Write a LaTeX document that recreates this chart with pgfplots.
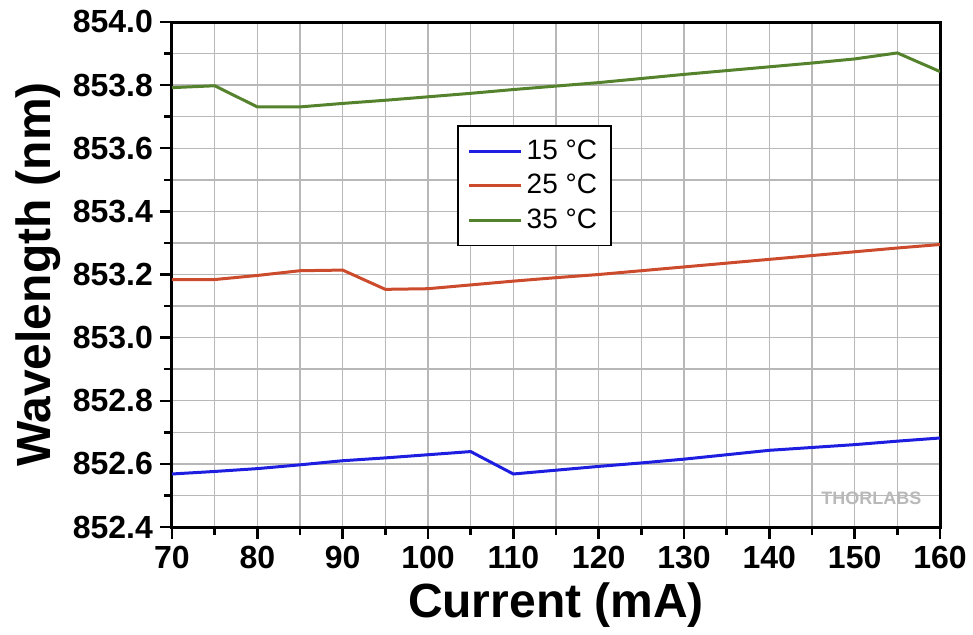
\documentclass[border=0pt]{standalone}
\usepackage{fontspec}
\setmainfont{Liberation Sans}
\usepackage{pgfplots}
\pgfplotsset{compat=1.18}
\usetikzlibrary{calc}

\definecolor{c15}{RGB}{30,30,225}
\definecolor{c25}{RGB}{205,75,45}
\definecolor{c35}{RGB}{85,130,45}

\begin{document}
\begin{tikzpicture}
\begin{axis}[
    scale only axis,
    width=384pt,
    height=252.5pt,
    xmin=70, xmax=160,
    ymin=852.4, ymax=854.0,
    xtick={70,80,...,160},
    ytick={852.4,852.6,...,854.0},
    minor xtick={75,85,...,155},
    minor ytick={852.5,852.7,...,853.9},
    grid=both,
    major grid style={black!28, line width=0.7pt},
    minor grid style={black!28, line width=0.7pt},
    axis line style={line width=1.5pt},
    tick style={black, line width=1.2pt},
    major tick length=6pt,
    minor tick length=4pt,
    tick align=outside,
    xtick pos=bottom,
    ytick pos=left,
    /pgf/number format/assume math mode=true,
    yticklabel style={/pgf/number format/.cd, fixed, fixed zerofill, precision=1, 1000 sep={}},
    tick label style={font=\bfseries\fontsize{16}{18}\selectfont},
    xlabel={Current (mA)},
    ylabel={Wavelength (nm)},
    label style={font=\bfseries\fontsize{24}{27}\selectfont},
    xlabel style={yshift=0pt},
    ylabel style={yshift=-1pt},
    legend style={at={(0.371,0.796)}, anchor=north west, draw=black, line width=0.8pt,
        font=\fontsize{14}{17}\selectfont, row sep=2pt, inner xsep=5pt, inner ysep=5pt,
        /tikz/every even column/.append style={column sep=4pt}},
    legend cell align=left,
    legend image code/.code={\draw[#1, line width=1.5pt] (0pt,0pt) -- (26pt,0pt);},
]
\addplot[c15, line width=1.5pt] coordinates {
(70,852.568) (75,852.576) (80,852.585) (85,852.597) (90,852.610) (95,852.619) (100,852.629) (105,852.639)
(110,852.568) (115,852.580) (120,852.592) (125,852.603) (130,852.615) (135,852.629) (140,852.643)
(145,852.652) (150,852.661) (155,852.672) (160,852.682)};
\addlegendentry{15 °C}
\addplot[c25, line width=1.5pt] coordinates {
(70,853.184) (75,853.184) (80,853.197) (85,853.212) (90,853.214) (95,853.153) (100,853.155)
(105,853.167) (110,853.179) (115,853.190) (120,853.200) (125,853.212) (130,853.224) (135,853.236)
(140,853.248) (145,853.260) (150,853.272) (155,853.284) (160,853.295)};
\addlegendentry{25 °C}
\addplot[c35, line width=1.5pt] coordinates {
(70,853.792) (75,853.798) (80,853.731) (85,853.731) (90,853.742) (95,853.752) (100,853.763)
(105,853.774) (110,853.786) (115,853.797) (120,853.808) (125,853.821) (130,853.834) (135,853.846)
(140,853.858) (145,853.870) (150,853.883) (155,853.902) (160,853.843)};
\addlegendentry{35 °C}
\node[anchor=south east, text=gray!55, font=\bfseries\fontsize{9}{10}\selectfont] at (rel axis cs:0.985,0.03) {THORLABS};
\coordinate (sw) at (rel axis cs:0,0);
\coordinate (ne) at (rel axis cs:1,1);
\end{axis}
\pgfresetboundingbox
\path ($(sw)+(-86pt,-53.5pt)$) rectangle ($(ne)+(16.5pt,11pt)$);
\end{tikzpicture}
\end{document}
